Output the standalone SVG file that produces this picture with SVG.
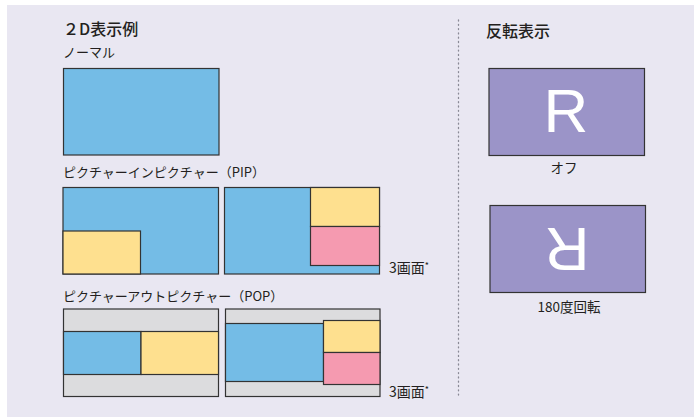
<svg xmlns="http://www.w3.org/2000/svg" width="694" height="417" viewBox="0 0 694 417">
<style>
.t{font-family:"Noto Sans CJK JP","Liberation Sans",sans-serif;fill:#231f20}
.h{font-size:16px;font-weight:500}
.s{font-size:13px}
.m{font-size:13.5px}
.n{font-size:14px}
.b{stroke:#333;stroke-width:1.2}
.blue{fill:#74bce6}
.yel{fill:#fee08f}
.pink{fill:#f59ab0}
.gray{fill:#dcdcde}
.pur{fill:#9b94c8}
.R{font-family:"Liberation Sans",Arial,sans-serif;font-size:62px;fill:#fff}
</style>
<rect x="7" y="5" width="687" height="412" fill="#e9e7f2"/>
<line x1="458.5" y1="20" x2="458.5" y2="398" stroke="#8a8a96" stroke-width="1.3" stroke-dasharray="1 3.3" stroke-linecap="round"/>

<text class="t h" x="63" y="35">２D表示例</text>
<text class="t s" x="63" y="57">ノーマル</text>
<g id="normal">
<rect class="blue b" x="63.5" y="68.5" width="155.5" height="86.5"/>
</g>

<text class="t s" x="63" y="177">ピクチャーインピクチャー（PIP）</text>
<g id="pip1">
<rect class="blue b" x="63" y="187.5" width="155.5" height="86.5"/>
<rect class="yel b" x="63" y="231" width="77.5" height="43"/>
</g>
<g id="pip2">
<rect class="blue b" x="224.5" y="187.5" width="155" height="86.5"/>
<rect class="yel b" x="310.5" y="187.5" width="69" height="39"/>
<rect class="pink b" x="310.5" y="226.5" width="69" height="39"/>
</g>
<text class="t n" x="389" y="273">3画面<tspan font-size="9" dy="-4">*</tspan></text>

<text class="t s" x="63" y="301">ピクチャーアウトピクチャー（POP）</text>
<g id="pop1">
<rect class="gray b" x="63.5" y="309" width="155" height="87.5"/>
<rect class="blue b" x="63.5" y="331.5" width="77.5" height="43"/>
<rect class="yel b" x="141" y="331.5" width="77.5" height="43"/>
</g>
<g id="pop2">
<rect class="gray b" x="225.5" y="309" width="154.5" height="87.5"/>
<rect class="blue b" x="225.5" y="323.5" width="98" height="58"/>
<rect class="yel b" x="323.5" y="320.5" width="56.5" height="32"/>
<rect class="pink b" x="323.5" y="352.5" width="56.5" height="32"/>
</g>
<text class="t n" x="389" y="397">3画面<tspan font-size="9" dy="-4">*</tspan></text>

<text class="t h" x="486" y="36.5">反転表示</text>
<g id="off">
<rect class="pur b" x="489" y="68.5" width="155.5" height="87"/>
<text class="R" x="566" y="132" text-anchor="middle">R</text>
<text class="t m" x="564" y="172.5" text-anchor="middle">オフ</text>
</g>
<g id="rot180">
<rect class="pur b" x="490" y="205.5" width="155.5" height="87"/>
<text class="R" x="567" y="269" text-anchor="middle" transform="rotate(180 567 248.5)">R</text>
<text class="t m" x="569" y="312" text-anchor="middle">180度回転</text>
</g>
</svg>
